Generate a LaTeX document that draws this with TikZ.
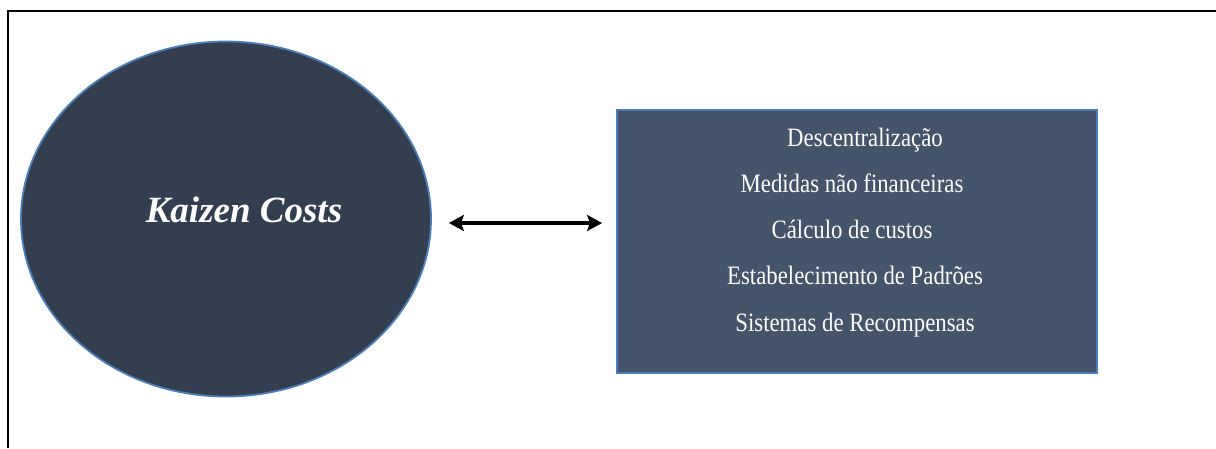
\documentclass[tikz,border=0pt]{standalone}
\usepackage{fontspec}
\setmainfont{Liberation Serif}
\newfontfamily\itemfont[FakeStretch=0.86]{Liberation Serif}
\usetikzlibrary{shapes.geometric,arrows.meta}

\definecolor{ovalfill}{HTML}{333F50}
\definecolor{boxfill}{HTML}{44546A}
\definecolor{edgeblue}{HTML}{4A7EBB}

\tikzset{
  frame/.style={line width=2pt, black},
  oval/.style={ellipse, draw=edgeblue, fill=ovalfill, line width=1.8pt,
    minimum width=410pt, minimum height=355pt, inner sep=0pt},
  panel/.style={rectangle, draw=edgeblue, fill=boxfill, line width=1.8pt,
    minimum width=480pt, minimum height=263pt, inner sep=0pt},
  titletext/.style={text=white, anchor=base, inner sep=0pt,
    font=\fontsize{37}{40}\selectfont\bfseries\itshape},
  itemtext/.style={text=white, anchor=base, inner sep=0pt,
    font=\itemfont\fontsize{26.5}{30}\selectfont},
  biarrow/.style={line width=4pt, black,
    {Stealth[length=15pt,width=16pt,inset=3pt]}-{Stealth[length=15pt,width=16pt,inset=3pt]}}
}

\begin{document}
\begin{tikzpicture}[x=1pt, y=-1pt]
  \useasboundingbox (0,0) rectangle (1216,448);

  % outer frame (top and left edges)
  \draw[frame] (8,448) -- (8,11) -- (1216,11);

  % left oval with its title
  \node[oval] (kaizen) at (226,219) {};
  \node[titletext] (kaizenlbl) at (244,222) {Kaizen Costs};

  % right panel with the list of items
  \node[panel] (box) at (857,241.5) {};
  \node[itemtext] (it1) at (865,146) {Descentralização};
  \node[itemtext] (it2) at (852,192) {Medidas não financeiras};
  \node[itemtext] (it3) at (852,238) {Cálculo de custos};
  \node[itemtext] (it4) at (855,284) {Estabelecimento de Padrões};
  \node[itemtext] (it5) at (855,331) {Sistemas de Recompensas};

  % two-headed connector between oval and panel
  \path ([xshift=17pt]kaizen.east) ++(0,4) coordinate (arrL);
  \draw[biarrow, shorten >=14pt] (arrL) -- (arrL -| box.west);
\end{tikzpicture}
\end{document}
